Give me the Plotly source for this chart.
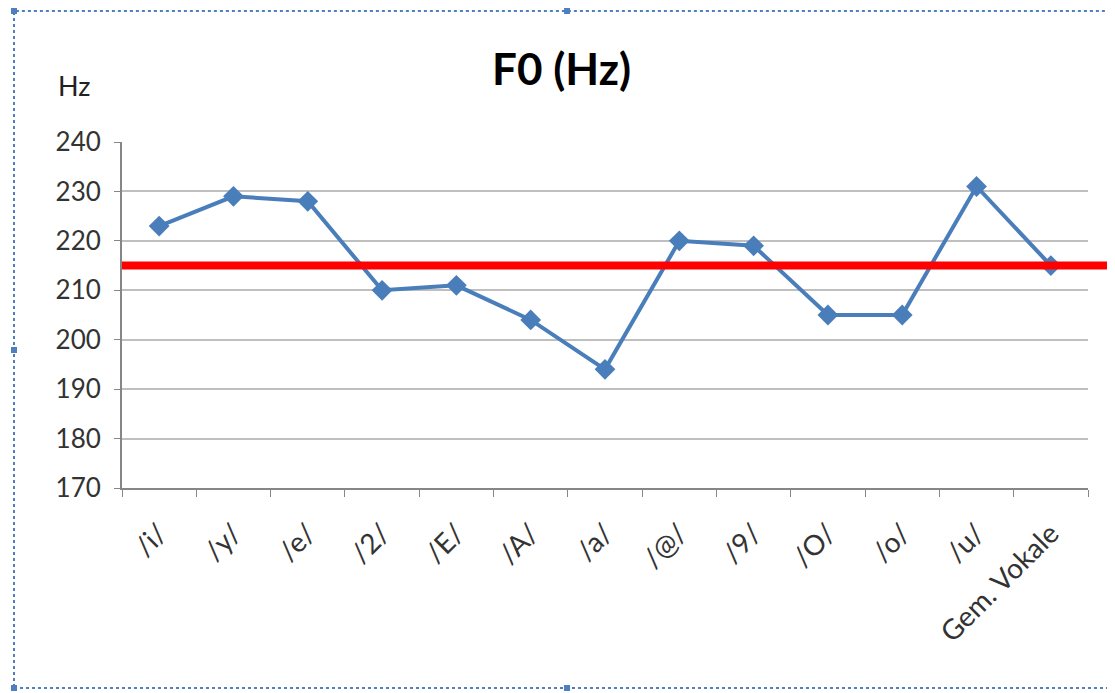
import plotly.graph_objects as go

# F0 per vowel (Hz)
vowels = ["/i/", "/y/", "/e/", "/2/", "/E/", "/A/", "/a/", "/@/", "/9/", "/O/", "/o/", "/u/", "Gem. Vokale"]
f0_values = [223, 229, 228, 210, 211, 204, 194, 220, 219, 205, 205, 231, 215]
mean_f0 = 215

y_ticks = [170, 180, 190, 200, 210, 220, 230, 240]

frame_blue = "#4f7fbf"

fig = go.Figure()

fig.add_trace(go.Scatter(
    x=vowels,
    y=f0_values,
    mode="lines+markers",
    line=dict(color="#4a7ebb", width=4),
    marker=dict(symbol="diamond", size=16, color="#4a7ebb"),
    showlegend=False,
))

# red reference line (mean), runs from the y axis to past the plot edge
fig.add_shape(type="line", xref="paper", yref="y",
              x0=0, x1=1.04, y0=mean_f0, y1=mean_f0,
              line=dict(color="#ff0000", width=8), layer="above")

# dotted selection frame around the chart
fig.add_shape(type="rect", xref="paper", yref="paper",
              x0=-0.1118, x1=1.0248, y0=-0.578, y1=1.3786,
              line=dict(color=frame_blue, width=2, dash="dot"), layer="below")

# small handles on the frame
handles = [(-0.1118, 1.3786), (0.4607, 1.3786), (-0.1118, 0.3988),
           (1.0248, 0.3988), (-0.1118, -0.578), (0.4607, -0.578)]
for hx, hy in handles:
    fig.add_shape(type="rect", xref="paper", yref="paper",
                  xsizemode="pixel", ysizemode="pixel", xanchor=hx, yanchor=hy,
                  x0=-3, x1=3, y0=-3, y1=3,
                  fillcolor=frame_blue, line=dict(width=0))

fig.update_layout(
    width=1107,
    height=685,
    margin=dict(l=114, r=27, t=134, b=205),
    paper_bgcolor="white",
    plot_bgcolor="white",
    font=dict(family="Lato, Noto Sans, sans-serif", size=20, color="#404040"),
    title=dict(text="<b>F0 (Hz)</b>", x=0.5, xanchor="center", y=0.91, yanchor="middle",
               font=dict(size=44, color="#000000")),
    annotations=[dict(text="Hz", xref="paper", yref="paper", x=-0.0487, y=1.162,
                      xanchor="center", yanchor="middle",
                      showarrow=False, font=dict(size=27, color="#222222"))],
)

fig.update_xaxes(
    type="category",
    range=[-0.5, len(vowels) - 0.5],
    automargin=False,
    tickangle=-45,
    tickson="boundaries",
    ticks="outside",
    ticklen=7,
    tickcolor="#868686",
    ticklabelstandoff=16,
    showgrid=False,
    showline=True,
    linecolor="#868686",
    linewidth=2,
    tickfont=dict(size=28, color="#333333"),
)

fig.update_yaxes(
    range=[170, 240],
    automargin=False,
    tickvals=y_ticks,
    ticks="outside",
    ticklen=6,
    tickcolor="#868686",
    ticklabelstandoff=8,
    showline=True,
    linecolor="#868686",
    linewidth=2,
    gridcolor="#bfbfbf",
    gridwidth=1.5,
    zeroline=False,
    tickfont=dict(size=26, color="#333333"),
)

fig.write_html("out.html")
